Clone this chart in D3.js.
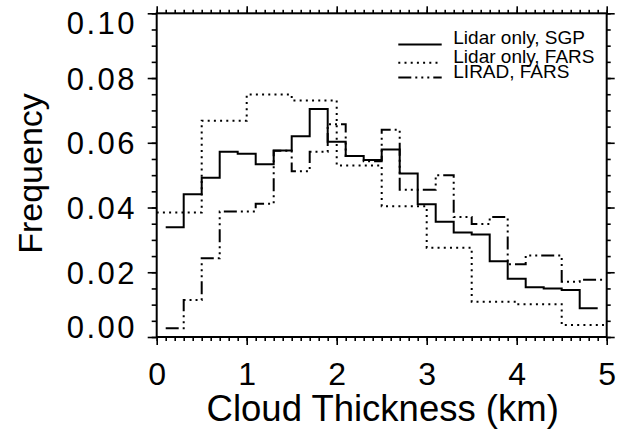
<!DOCTYPE html>
<html>
<head>
<meta charset="utf-8">
<script src="https://cdn.jsdelivr.net/npm/d3@7"></script>
<style>
  html, body { margin: 0; padding: 0; background: #fff; }
  svg { display: block; font-family: "Liberation Sans", Arial, Helvetica, sans-serif; }
</style>
</head>
<body>
<svg id="chart" width="623" height="434"></svg>
<script>
// ---- data ----
const binCenters = [0.2, 0.4, 0.6, 0.8, 1.0, 1.2, 1.4, 1.6, 1.8, 2.0, 2.2, 2.4,
                    2.6, 2.8, 3.0, 3.2, 3.4, 3.6, 3.8, 4.0, 4.2, 4.4, 4.6, 4.8];
const lidarSGP = [0.0339, 0.0441, 0.0492, 0.0572, 0.0566, 0.0534, 0.0576, 0.0620,
                  0.0704, 0.0603, 0.0559, 0.0547, 0.0579, 0.0505, 0.0410, 0.0356,
                  0.0323, 0.0317, 0.0234, 0.0180, 0.0154, 0.0150, 0.0145, 0.0089];
const liradFARS = [0.0027, 0.0114, 0.0243, 0.0388, 0.0388, 0.0412, 0.0575, 0.0512,
                   0.0572, 0.0657, 0.0559, 0.0543, 0.0640, 0.0455, 0.0455, 0.0500,
                   0.0371, 0.0349, 0.0371, 0.0225, 0.0252, 0.0252, 0.0171, 0.0177];
const farsBinCenters = [0.25, 0.75, 1.25, 1.75, 2.25, 2.75, 3.25, 3.75, 4.25, 4.75];
const lidarFARS = [0.0385, 0.0668, 0.0749, 0.0731, 0.0530, 0.0404, 0.0276, 0.0109, 0.0101, 0.0037];

const seriesNames = ["Lidar only, SGP", "Lidar only, FARS", "LIRAD, FARS"];
const xTicks = [0, 1, 2, 3, 4, 5];
const yTicks = [0.00, 0.02, 0.04, 0.06, 0.08, 0.10];
const xLabel = "Cloud Thickness (km)";
const yLabel = "Frequency";

// ---- layout ----
const L = 156.7, R = 606.7, T = 13.3, B = 337;
const svg = d3.select("#chart");
const x = d3.scaleLinear().domain([0, 5]).range([L, R]);
const y = d3.scaleLinear().domain([0, 0.1]).range([B, T]);

const styles = [
  { dash: null },
  { dash: "2,4.2" },
  { dash: "13,4,2,4,2,4,2,4" }
];

function stepPoints(centers, vals, extendStart, extendEnd) {
  const w = centers[1] - centers[0];
  const pts = centers.map((c, i) => [c - w / 2, vals[i]]);
  if (extendStart !== undefined) pts[0][0] = extendStart;
  const endX = extendEnd !== undefined ? extendEnd : centers[centers.length - 1] + w / 2;
  pts.push([endX, vals[vals.length - 1]]);
  return pts;
}

const series = [
  { pts: stepPoints(binCenters, lidarSGP), style: styles[0] },
  { pts: stepPoints(farsBinCenters, lidarFARS, 0, 5), style: styles[1] },
  { pts: stepPoints(binCenters, liradFARS, undefined, 5), style: styles[2] }
];

const line = d3.line().x(d => x(d[0])).y(d => y(d[1])).curve(d3.curveStepAfter);

const g = svg.append("g");
series.forEach(s => {
  g.append("path")
    .attr("d", line(s.pts))
    .attr("fill", "none")
    .attr("stroke", "#000")
    .attr("stroke-width", 2)
    .attr("stroke-dasharray", s.style.dash);
});

// ---- axes ----
function styleAxis(sel) {
  sel.select(".domain").remove();
  sel.selectAll(".tick line").attr("stroke", "#000").attr("stroke-width", 1.6);
}
const xMinor = d3.range(0, 5.001, 0.1).map(v => +v.toFixed(1));
const yMinor = d3.range(0, 0.1001, 0.005).map(v => +v.toFixed(3));

// bottom
svg.append("g").attr("transform", `translate(0,${B})`)
  .call(d3.axisBottom(x).tickValues(xMinor).tickFormat("").tickSize(4)).call(styleAxis);
const bx = svg.append("g").attr("transform", `translate(0,${B})`)
  .call(d3.axisBottom(x).tickValues(xTicks).tickFormat(d3.format("d")).tickSize(8)).call(styleAxis);
bx.selectAll("text").attr("y", 48).attr("dy", 0)
  .attr("font-size", 32).attr("fill", "#000")
  .attr("font-family", "Liberation Sans, Arial, sans-serif");
// top
svg.append("g").attr("transform", `translate(0,${T})`)
  .call(d3.axisTop(x).tickValues(xMinor).tickFormat("").tickSize(3.5)).call(styleAxis);
svg.append("g").attr("transform", `translate(0,${T})`)
  .call(d3.axisTop(x).tickValues(xTicks).tickFormat("").tickSize(7)).call(styleAxis);
// left
svg.append("g").attr("transform", `translate(${L},0)`)
  .call(d3.axisLeft(y).tickValues(yMinor).tickFormat("").tickSize(5)).call(styleAxis);
const ly = svg.append("g").attr("transform", `translate(${L},0)`)
  .call(d3.axisLeft(y).tickValues(yTicks).tickFormat(d3.format(".2f")).tickSize(9)).call(styleAxis);
ly.selectAll("text")
  .attr("x", -19.7)
  .attr("font-size", 31).attr("fill", "#000")
  .attr("font-family", "Liberation Sans, Arial, sans-serif")
  .style("letter-spacing", "2.5px")
  .attr("dy", d => d === 0.1 ? "20px" : (d === 0 ? "0px" : "0.36em"));
// right
svg.append("g").attr("transform", `translate(${R},0)`)
  .call(d3.axisRight(y).tickValues(yMinor).tickFormat("").tickSize(4)).call(styleAxis);
svg.append("g").attr("transform", `translate(${R},0)`)
  .call(d3.axisRight(y).tickValues(yTicks).tickFormat("").tickSize(8)).call(styleAxis);

// frame
svg.append("rect").attr("x", L).attr("y", T).attr("width", R - L).attr("height", B - T)
  .attr("fill", "none").attr("stroke", "#000").attr("stroke-width", 2);

// titles
svg.append("text").attr("x", (L + R) / 2 + 1).attr("y", 421)
  .attr("text-anchor", "middle").attr("font-size", 36.5).attr("fill", "#000")
  .text(xLabel);
svg.append("text").attr("transform", `translate(41.7,${173.5}) rotate(-90)`)
  .attr("text-anchor", "middle").attr("font-size", 34).attr("fill", "#000")
  .text(yLabel);

// legend
const legY = [44.4, 62.8, 77.6];
const leg = svg.append("g");
seriesNames.forEach((name, i) => {
  leg.append("line")
    .attr("x1", 398.3).attr("x2", 441.7).attr("y1", legY[i]).attr("y2", legY[i])
    .attr("stroke", "#000").attr("stroke-width", 2)
    .attr("stroke-dasharray", styles[i].dash);
  leg.append("text").attr("x", 453.3).attr("y", legY[i])
    .attr("font-size", 19).attr("fill", "#000")
    .text(name);
});
</script>
</body>
</html>
